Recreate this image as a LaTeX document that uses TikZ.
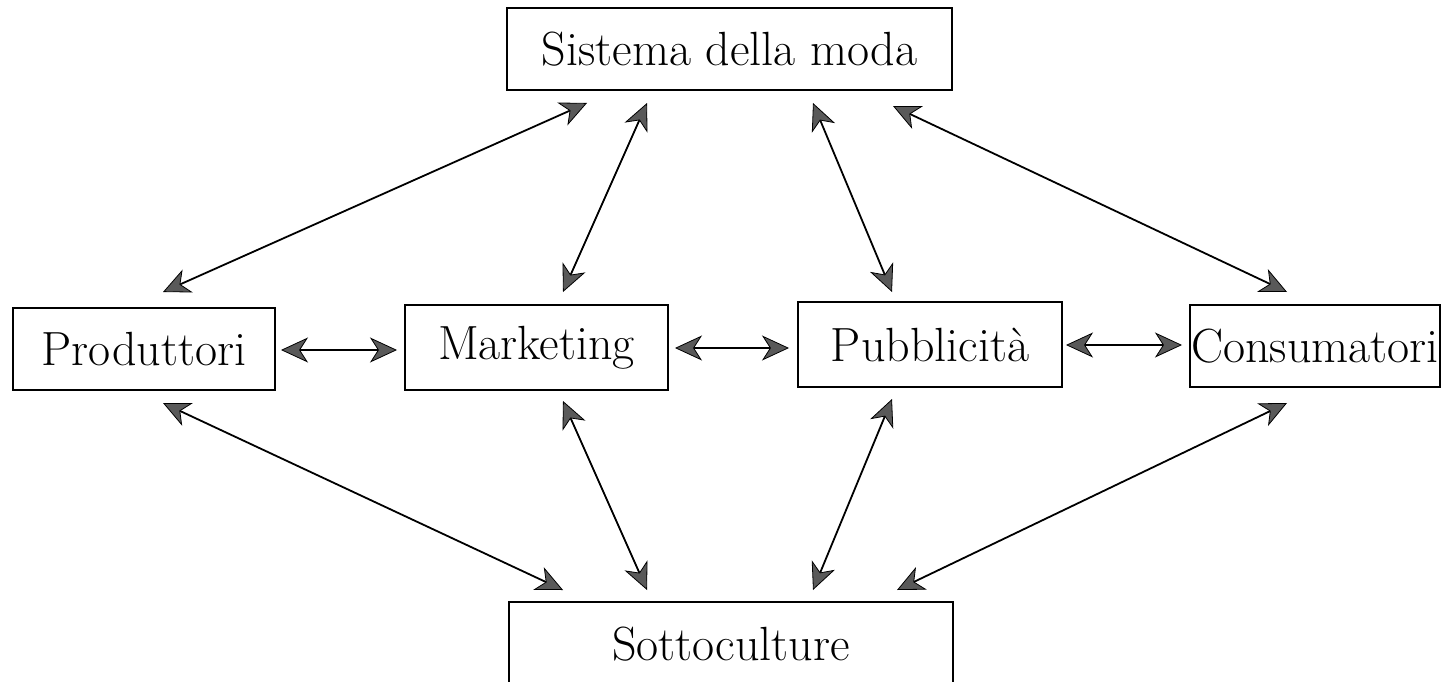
\documentclass[tikz,border=0pt]{standalone}
\usetikzlibrary{arrows.meta}
\begin{document}
\begin{tikzpicture}[x=1pt,y=-1pt,
  box/.style={draw=black,line width=1.6pt,inner sep=0pt,font=\fontsize{48}{52}\selectfont},
  tip/.style={Stealth[length=27pt,width=25pt,inset=8pt,fill=black!65,line width=0.8pt]},
  link/.style={line width=1.8pt,black,{Stealth[length=27pt,width=25pt,inset=8pt,fill=black!65,line width=0.8pt]}-{Stealth[length=27pt,width=25pt,inset=8pt,fill=black!65,line width=0.8pt]}}]
\useasboundingbox (0,0) rectangle (1445,682);
\node[box,minimum width=445pt,minimum height=82pt] (S) at (729.5,49) {Sistema della moda};
\node[box,minimum width=262pt,minimum height=82pt] (P) at (144,349) {Produttori};
\node[box,minimum width=263pt,minimum height=85pt] (M) at (536.5,347.5) {Marketing};
\node[box,minimum width=264pt,minimum height=85pt] (U) at (930,344.5) {Pubblicità};
\node[box,minimum width=250pt,minimum height=82pt] (C) at (1315,346) {Consumatori};
\node[box,minimum width=444pt,minimum height=90pt,text depth=0pt] (T) at (731,647) {\raisebox{6pt}{Sottoculture}};
% endpoints
\coordinate (s1) at (587,103); \coordinate (p1) at (163,292);
\coordinate (s2) at (647,103); \coordinate (m1) at (563,292);
\coordinate (s3) at (813,103); \coordinate (u1) at (892,292);
\coordinate (s4) at (893,106); \coordinate (c1) at (1287,292);
\coordinate (p2) at (281,350); \coordinate (m2) at (397,350);
\coordinate (m3) at (675,348); \coordinate (u2) at (789,348);
\coordinate (u3) at (1066,345); \coordinate (c2) at (1182,345);
\coordinate (p3) at (163,403); \coordinate (t1) at (563,590);
\coordinate (m4) at (563,401); \coordinate (t2) at (647,590);
\coordinate (u4) at (892,399); \coordinate (t3) at (813,590);
\coordinate (c3) at (1287,403); \coordinate (t4) at (897,590);
\draw[link] (s1) -- (p1);
\draw[link] (s2) -- (m1);
\draw[link] (s3) -- (u1);
\draw[link] (s4) -- (c1);
\draw[link] (p2) -- (m2);
\draw[link] (m3) -- (u2);
\draw[link] (u3) -- (c2);
\draw[link] (p3) -- (t1);
\draw[link] (m4) -- (t2);
\draw[link] (u4) -- (t3);
\draw[link] (c3) -- (t4);
\end{tikzpicture}
\end{document}
